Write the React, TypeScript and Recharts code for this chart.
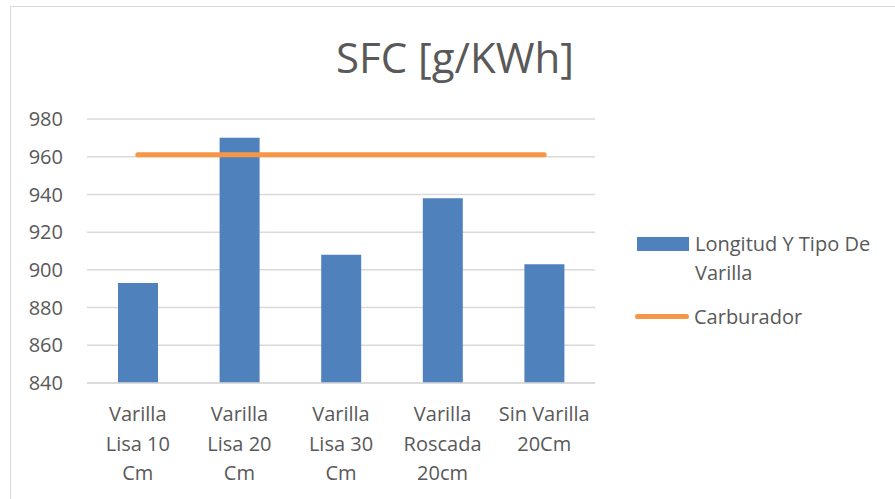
import React from 'react';
import { ComposedChart, Bar, Line, XAxis, YAxis, CartesianGrid } from 'recharts';

const categories = [
  'Varilla Lisa 10 Cm',
  'Varilla Lisa 20 Cm',
  'Varilla Lisa 30 Cm',
  'Varilla Roscada 20cm',
  'Sin Varilla 20Cm',
];
const categoryLines = [
  ['Varilla', 'Lisa 10', 'Cm'],
  ['Varilla', 'Lisa 20', 'Cm'],
  ['Varilla', 'Lisa 30', 'Cm'],
  ['Varilla', 'Roscada', '20cm'],
  ['Sin Varilla', '20Cm'],
];
const varillaValues = [893, 970, 908, 938, 903];
const carburadorValues = [961, 961, 961, 961, 961];
const yTicks = [840, 860, 880, 900, 920, 940, 960, 980];

const data = categories.map((c, i) => ({
  name: c,
  varilla: varillaValues[i],
  carburador: carburadorValues[i],
}));

const FONT = '"Open Sans", sans-serif';
const TEXT = '#595959';
const BLUE = '#4F81BD';
const ORANGE = '#F79646';

function CategoryTick(props: any) {
  const { x, y, index } = props;
  const lines = categoryLines[index] || [];
  return (
    <text x={x} y={y} textAnchor="middle" fill={TEXT} fontSize={20} fontFamily={FONT}>
      {lines.map((l, i) => (
        <tspan key={i} x={x} dy={i === 0 ? 30 : 29.5}>{l}</tspan>
      ))}
    </text>
  );
}

function LegendBox() {
  return (
    <div style={{
      position: 'absolute', left: 637, top: 229, width: 258,
      fontFamily: FONT, fontSize: 20, color: TEXT, lineHeight: '29px',
    }}>
      <div style={{ display: 'flex', alignItems: 'flex-start' }}>
        <div style={{ width: 52, height: 14, background: BLUE, marginTop: 8, marginRight: 6 }} />
        <div style={{ width: 200 }}>Longitud Y Tipo De<br />Varilla</div>
      </div>
      <div style={{ display: 'flex', alignItems: 'center', marginTop: 15 }}>
        <div style={{ width: 54, height: 5, background: ORANGE, borderRadius: 3, marginRight: 5, marginLeft: -2 }} />
        <div>Carburador</div>
      </div>
    </div>
  );
}

export default function App() {
  return (
    <div style={{ position: 'absolute', left: 0, top: 0, width: 895, height: 499, overflow: 'hidden', background: '#fff' }}>
      <div style={{ position: 'absolute', left: 10, top: 6, width: 950, height: 560, border: '1.5px solid #d9d9d9' }} />
      <div style={{
        position: 'absolute', left: 0, width: 910, top: 29, textAlign: 'center',
        fontFamily: FONT, fontSize: 42, color: TEXT, lineHeight: '56px',
      }}>
        SFC [g/KWh]
      </div>
      <div style={{ position: 'absolute', left: 0, top: 0 }}>
        <ComposedChart width={895} height={499} data={data} margin={{ top: 119, right: 300, bottom: 0, left: 0 }}>
          <CartesianGrid horizontal vertical={false} stroke="#d9d9d9" strokeWidth={1.5} />
          <XAxis
            dataKey="name"
            height={116}
            axisLine={{ stroke: '#d9d9d9', strokeWidth: 1.5 }}
            tickLine={false}
            interval={0}
            tick={<CategoryTick />}
          />
          <YAxis
            width={87}
            domain={[840, 980]}
            ticks={yTicks}
            interval={0}
            axisLine={false}
            tickLine={false}
            tickSize={0}
            tickMargin={24}
            tick={{ fill: TEXT, fontSize: 20, fontFamily: FONT }}
          />
          <Bar dataKey="varilla" name="Longitud Y Tipo De Varilla" fill={BLUE} barSize={40} isAnimationActive={false} />
          <Line
            dataKey="carburador"
            name="Carburador"
            stroke={ORANGE}
            strokeWidth={5}
            strokeLinecap="round"
            dot={false}
            activeDot={false}
            isAnimationActive={false}
          />
        </ComposedChart>
      </div>
      <LegendBox />
    </div>
  );
}
